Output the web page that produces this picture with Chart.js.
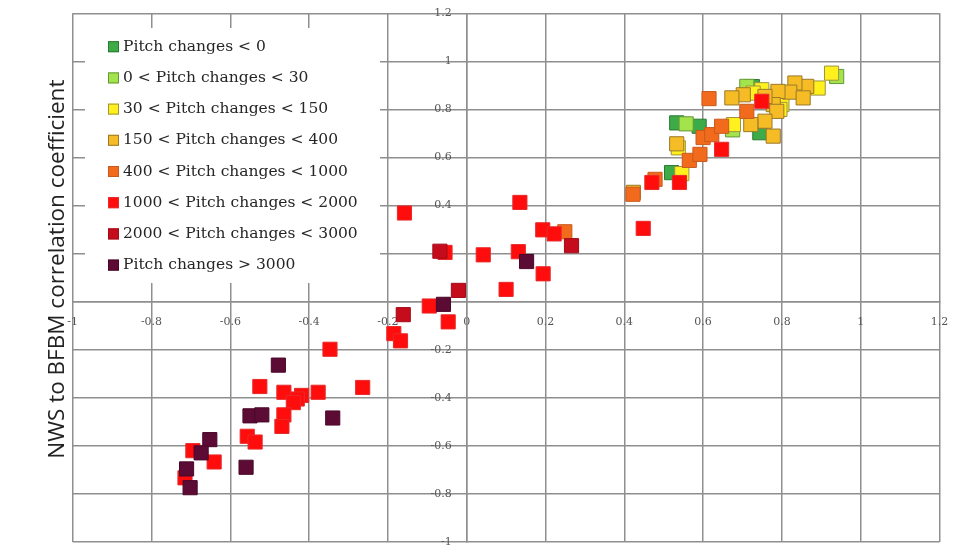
<!DOCTYPE html>
<html>
<head>
<meta charset="utf-8">
<script src="https://cdn.jsdelivr.net/npm/chart.js@4.4.1/dist/chart.umd.min.js"></script>
<style>
  html, body { margin: 0; padding: 0; background: #ffffff; }
  canvas { display: block; }
</style>
</head>
<body>
<canvas id="chart" width="954" height="553"></canvas>
<script>
// Legend entries, one per pitch-change band
const seriesLabels = [
  'Pitch changes < 0',
  '0 < Pitch changes < 30',
  '30 < Pitch changes < 150',
  '150 < Pitch changes < 400',
  '400 < Pitch changes < 1000',
  '1000 < Pitch changes < 2000',
  '2000 < Pitch changes < 3000',
  'Pitch changes > 3000'
];

const yAxisTitle = 'NWS to BFBM correlation coefficient';

// Axis range shared by both axes
const axisMin = -1;
const axisMax = 1.2;
const axisStep = 0.2;

// [x, y] correlation pairs per band
const pitchBelow0 = [
  [0.533, 0.744], [0.59, 0.73], [0.52, 0.537], [0.744, 0.703], [0.725, 0.895]
];
const pitch0to30 = [
  [0.557, 0.74], [0.939, 0.937], [0.711, 0.896], [0.675, 0.715]
];
const pitch30to150 = [
  [0.537, 0.64], [0.677, 0.737], [0.546, 0.533], [0.926, 0.951], [0.892, 0.889],
  [0.80, 0.82], [0.749, 0.882], [0.727, 0.868], [0.795, 0.80]
];
const pitch150to400 = [
  [0.423, 0.455], [0.533, 0.657], [0.863, 0.896], [0.833, 0.91], [0.82, 0.872],
  [0.854, 0.848], [0.79, 0.875], [0.778, 0.82], [0.757, 0.854], [0.702, 0.861],
  [0.673, 0.848], [0.787, 0.792], [0.757, 0.751], [0.721, 0.737], [0.778, 0.689]
];
const pitch400to1000 = [
  [0.249, 0.291], [0.422, 0.447], [0.615, 0.845], [0.565, 0.588], [0.592, 0.613],
  [0.6, 0.683], [0.622, 0.695], [0.647, 0.73], [0.478, 0.509], [0.711, 0.792]
];
const pitch1000to2000 = [
  [-0.158, 0.369], [0.135, 0.413], [0.193, 0.299], [0.222, 0.282], [-0.055, 0.205],
  [0.042, 0.195], [0.131, 0.208], [0.194, 0.116], [0.10, 0.051], [-0.095, -0.018],
  [-0.047, -0.084], [-0.185, -0.133], [-0.168, -0.163], [0.448, 0.305], [0.647, 0.634],
  [0.54, 0.496], [0.47, 0.496], [0.749, 0.834], [-0.347, -0.198], [-0.525, -0.353],
  [-0.464, -0.377], [-0.419, -0.39], [-0.43, -0.405], [-0.44, -0.42], [-0.377, -0.377],
  [-0.264, -0.357], [-0.464, -0.471], [-0.469, -0.519], [-0.557, -0.56], [-0.537, -0.584],
  [-0.695, -0.62], [-0.641, -0.667], [-0.715, -0.733]
];
const pitch2000to3000 = [
  [0.266, 0.233], [-0.021, 0.047], [-0.161, -0.054], [-0.068, 0.21]
];
const pitchAbove3000 = [
  [0.152, 0.167], [-0.059, -0.011], [-0.478, -0.264], [-0.34, -0.484], [-0.55, -0.475],
  [-0.52, -0.471], [-0.652, -0.574], [-0.674, -0.629], [-0.56, -0.689], [-0.711, -0.696],
  [-0.702, -0.774]
];

const seriesData = [
  pitchBelow0, pitch0to30, pitch30to150, pitch150to400,
  pitch400to1000, pitch1000to2000, pitch2000to3000, pitchAbove3000
];

// Marker styling per band
const fillColors = ['#3dab48', '#a3e34c', '#fff01e', '#f6bc25', '#f26b1d', '#ff0c0c', '#c50c1c', '#5c0b35'];
const edgeColors = ['#2a7a32', '#65983a', '#9c9440', '#9a7a2a', '#c85a1c', '#e82a2a', '#a50a18', '#4a0829'];

const gridColor = '#8f8f8f';
const tickColor = '#555555';
const tickFont = { family: 'DejaVu Serif', size: 11 };
const formatTick = (v) => String(Number(v.toFixed(1)));

// Axes cross in the middle, so their label overhang must not shrink the plot
const noEdgePadding = (scale) => {
  scale.paddingTop = 0;
  scale.paddingBottom = 0;
  scale.paddingLeft = 0;
  scale.paddingRight = 0;
};

const datasets = seriesData.map((pts, i) => ({
  label: seriesLabels[i],
  data: pts.map(([x, y]) => ({ x, y })),
  backgroundColor: fillColors[i],
  borderColor: edgeColors[i],
  borderWidth: 1,
  pointStyle: 'rect',
  pointRadius: 10,
  pointHoverRadius: 10,
  // later bands are painted over earlier ones
  order: seriesData.length - i
}));

// Keep the value labels of the centred y axis clear of the axis line
const yLabelGap = {
  id: 'yLabelGap',
  beforeDraw(chart) {
    const items = chart.scales.y.getLabelItems(chart.chartArea);
    items.forEach((item) => { item.options.translation[0] -= 15; });
  }
};

// Boxed legend in the upper-left of the plot, over the grid but under the markers
const insetLegend = {
  id: 'insetLegend',
  beforeDatasetsDraw(chart) {
    const { ctx } = chart;
    ctx.save();
    ctx.fillStyle = '#ffffff';
    ctx.fillRect(85, 28, 295, 255);
    ctx.font = '15.5px "DejaVu Serif"';
    ctx.textBaseline = 'middle';
    ctx.textAlign = 'left';
    chart.data.datasets.forEach((ds, i) => {
      const y = 46.7 + i * 31.2;
      ctx.fillStyle = ds.backgroundColor;
      ctx.fillRect(108, y - 5.5, 11, 11);
      ctx.strokeStyle = ds.borderColor;
      ctx.lineWidth = 1;
      ctx.strokeRect(108.5, y - 5, 10, 10);
      ctx.fillStyle = '#262626';
      ctx.fillText(ds.label, 123, y);
    });
    ctx.restore();
  }
};

// Vertical axis title along the left edge
const sideTitle = {
  id: 'sideTitle',
  afterDraw(chart) {
    const { ctx, chartArea } = chart;
    ctx.save();
    ctx.translate(chartArea.left - 15, (chartArea.top + chartArea.bottom) / 2 - 8.5);
    ctx.rotate(-Math.PI / 2);
    ctx.font = '22.5px "Open Sans"';
    ctx.fillStyle = '#222222';
    ctx.textAlign = 'center';
    ctx.textBaseline = 'middle';
    ctx.fillText(yAxisTitle, 0, 0);
    ctx.restore();
  }
};

new Chart(document.getElementById('chart'), {
  type: 'scatter',
  data: { datasets },
  plugins: [yLabelGap, insetLegend, sideTitle],
  options: {
    responsive: false,
    devicePixelRatio: 1,
    animation: false,
    layout: { padding: { left: 72.7, right: 14.5, top: 13.3, bottom: 8.5 } },
    plugins: {
      legend: { display: false },
      tooltip: { enabled: false },
      title: { display: false }
    },
    scales: {
      x: {
        type: 'linear',
        position: { y: 0 },
        min: axisMin,
        max: axisMax,
        afterFit: noEdgePadding,
        ticks: { stepSize: axisStep, font: tickFont, color: tickColor, padding: 14, maxRotation: 0, callback: formatTick },
        grid: { color: gridColor, lineWidth: 1.5, drawTicks: false },
        border: { color: gridColor, width: 1.5 }
      },
      y: {
        type: 'linear',
        position: { x: 0 },
        min: axisMin,
        max: axisMax,
        afterFit: noEdgePadding,
        ticks: { stepSize: axisStep, font: tickFont, color: tickColor, padding: 0, callback: formatTick },
        grid: { color: gridColor, lineWidth: 1.5, drawTicks: false },
        border: { color: gridColor, width: 1.5 }
      }
    }
  }
});
</script>
</body>
</html>
